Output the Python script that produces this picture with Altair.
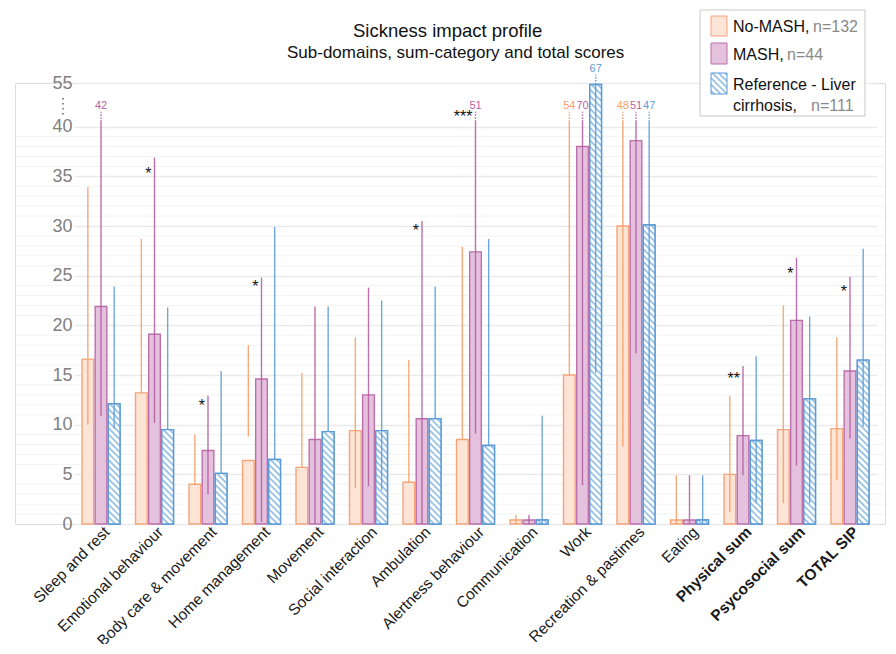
import base64
import altair as alt
import pandas as pd

# ---------------- data ----------------
categories = ["Sleep and rest", "Emotional behaviour", "Body care & movement", "Home management",
              "Movement", "Social interaction", "Ambulation", "Alertness behaviour", "Communication",
              "Work", "Recreation & pastimes", "Eating", "Physical sum", "Psycosocial sum", "TOTAL SIP"]
groups = ["No-MASH", "MASH", "Reference"]

no_mash_mean = [16.6, 13.2, 4.0, 6.4, 5.7, 9.4, 4.2, 8.5, 0.4, 15.0, 30.0, 0.4, 5.0, 9.5, 9.6]
no_mash_lo = [10.0, 13.2, 4.0, 8.8, 5.7, 3.6, 4.2, 8.5, 0.0, 15.0, 7.8, 0.0, 1.2, 2.1, 4.4]
no_mash_hi = [33.9, 28.7, 9.0, 18.0, 15.2, 18.8, 16.5, 27.9, 0.9, 54, 48, 4.9, 12.9, 22.0, 18.8]

mash_mean = [21.9, 19.1, 7.4, 14.6, 8.5, 13.0, 10.6, 27.4, 0.4, 38.0, 38.6, 0.4, 8.9, 20.5, 15.4]
mash_lo = [10.9, 10.2, 3.0, 0.2, 0.0, 3.8, 0.0, 9.1, 0.0, 3.9, 17.2, 0.0, 4.9, 5.9, 8.6]
mash_hi = [42, 36.9, 12.9, 24.8, 21.9, 23.8, 30.5, 51, 0.9, 70, 51, 4.9, 15.9, 26.8, 24.9]

ref_mean = [12.1, 9.5, 5.1, 6.5, 9.3, 9.4, 10.6, 7.9, 0.4, 54.5, 30.1, 0.4, 8.4, 12.6, 16.5]
ref_lo = [9.6, 9.5, 5.1, 6.5, 9.3, 3.4, 10.6, 7.9, 0.0, 15.2, 12.0, 0.0, 2.1, 2.1, 9.8]
ref_hi = [23.9, 21.8, 15.4, 29.9, 21.9, 22.5, 23.9, 28.7, 10.9, 67, 47, 4.9, 16.9, 20.9, 27.7]

stars_cat = ["Emotional behaviour", "Body care & movement", "Home management", "Ambulation",
             "Alertness behaviour", "Physical sum", "Psycosocial sum", "TOTAL SIP"]
stars_txt = ["*", "*", "*", "*", "***", "**", "*", "*"]
stars_pos = [35.6, 12.3, 24.3, 29.9, 41.4, 15.0, 25.6, 23.8]

y_tick_values = [0, 5, 10, 15, 20, 25, 30, 35, 40]
y_top_value = 55
minor_grid = [v for v in range(1, 40) if v % 5 != 0]

title_text = "Sickness impact profile"
subtitle_text = "Sub-domains, sum-category and total scores"

# ---------------- broken axis helpers ----------------
BREAK = 40.0
TOP_POS = 44.4
K = (TOP_POS - BREAK) / (y_top_value - BREAK)


def squash(v):
    return v if v <= BREAK else BREAK + (v - BREAK) * K


rows = []
for g, means, los, his in [("No-MASH", no_mash_mean, no_mash_lo, no_mash_hi),
                           ("MASH", mash_mean, mash_lo, mash_hi),
                           ("Reference", ref_mean, ref_lo, ref_hi)]:
    for c, m, lo, hi in zip(categories, means, los, his):
        mt = squash(m)
        trunc = hi > BREAK
        solid_top = max(mt, 40.5) if trunc else hi
        rows.append({
            "category": c, "group": g, "mean_t": mt, "zero": 0.0,
            "lo_t": lo, "solid_top": solid_top,
            "dot_top": solid_top + 1.0 if trunc else None,
            "lab_pos": solid_top + 1.6 if trunc else None,
            "lab_txt": str(int(round(hi))) if trunc else None,
        })
df = pd.DataFrame(rows)
df_trunc = df[df["lab_txt"].notna()].copy()
df_ref = df[df["group"] == "Reference"].copy()
stars_df = pd.DataFrame({"category": stars_cat, "group": "MASH", "pos": stars_pos, "txt": stars_txt})
minor_df = pd.DataFrame({"v": minor_grid})

# ---------------- styles ----------------
FONT = "Liberation Sans"
fill_colors = ["#FCE4D6", "#E4C2DE", "#DCEAF6"]
stroke_colors = ["#F4A57A", "#BB6FAB", "#5B9BD5"]
line_colors = ["#F5A06A", "#B55FA3", "#5E9DD6"]

hatch_svg = ('<svg xmlns="http://www.w3.org/2000/svg" width="100%" height="100%">'
             '<defs><pattern id="h" width="4.5" height="4.5" patternUnits="userSpaceOnUse" '
             'patternTransform="rotate(-45)">'
             '<rect width="4.5" height="4.5" fill="#ffffff"/>'
             '<line x1="1" y1="0" x2="1" y2="4.5" stroke="#8DBCE3" stroke-width="1.6"/>'
             '</pattern></defs><rect width="100%" height="100%" fill="url(#h)"/></svg>')
hatch_uri = "data:image/svg+xml;base64," + base64.b64encode(hatch_svg.encode()).decode()

W, H = 870, 441
xscale = alt.Scale(domain=categories, range=[59.25, 861.75], paddingInner=0.29, paddingOuter=0.145)
oscale = alt.Scale(domain=groups, paddingInner=0.114, paddingOuter=0)
yscale = alt.Scale(domain=[0, TOP_POS], nice=False, zero=False)

bold_test = "indexof(['Physical sum','Psycosocial sum','TOTAL SIP'], datum.value) >= 0"
xaxis = alt.Axis(title=None, labelAngle=315, labelAlign="right", labelBaseline="middle",
                 labelFont=FONT, labelFontSize=15.5, labelColor="#1a1a1a",
                 labelFontWeight={"condition": {"test": bold_test, "value": "bold"}, "value": "normal"},
                 labelPadding=5, labelOffset=6, domain=False, ticks=False, grid=False)
yaxis = alt.Axis(title=None, values=y_tick_values + [TOP_POS],
                 labelExpr="datum.value > 42 ? '55' : datum.label",
                 labelFont=FONT, labelFontSize=18, labelColor="#808080",
                 labelAlign="right", labelBaseline="middle", labelPadding=-57,
                 domain=False, ticks=False, tickSize=0,
                 grid=True, gridColor="#EAEAEA", gridWidth=1.5)

X = alt.X("category:N", sort=categories, scale=xscale, axis=xaxis)
XO = alt.XOffset("group:N", sort=groups, scale=oscale)


def Y(field):
    return alt.Y(field, type="quantitative", scale=yscale, axis=yaxis)


minor = alt.Chart(minor_df).mark_rule(color="#F3F3F3", strokeWidth=1).encode(y=Y("v"))

bars = alt.Chart(df).mark_bar(strokeWidth=1.4).encode(
    x=X, xOffset=XO, y=Y("mean_t"), y2="zero",
    fill=alt.Fill("group:N", sort=groups, scale=alt.Scale(domain=groups, range=fill_colors), legend=None),
    stroke=alt.Stroke("group:N", sort=groups, scale=alt.Scale(domain=groups, range=stroke_colors), legend=None),
)

hatch = alt.Chart(df_ref).mark_image(aspect=False).encode(
    x=X, xOffset=XO, y=Y("mean_t"), y2="zero", url=alt.value(hatch_uri))

ref_outline = alt.Chart(df_ref).mark_bar(fillOpacity=0, stroke="#5B9BD5", strokeWidth=1.4).encode(
    x=X, xOffset=XO, y=Y("mean_t"), y2="zero")

lcolor = alt.Color("group:N", sort=groups, scale=alt.Scale(domain=groups, range=line_colors), legend=None)

err = alt.Chart(df).mark_rule(strokeWidth=1.4, opacity=0.9).encode(
    x=X, xOffset=XO, y=Y("lo_t"), y2="solid_top", color=lcolor)

dots = alt.Chart(df_trunc).mark_rule(strokeWidth=1.4, strokeDash=[1.5, 1.5]).encode(
    x=X, xOffset=XO, y=Y("solid_top"), y2="dot_top", color=lcolor)

trunc_labels = alt.Chart(df_trunc).mark_text(font=FONT, fontSize=11, baseline="middle").encode(
    x=X, xOffset=XO, y=Y("lab_pos"), text="lab_txt:N", color=lcolor)

stars = alt.Chart(stars_df).mark_text(font=FONT, fontSize=16, align="right", baseline="middle",
                                      dx=-3, dy=4, color="#111111").encode(
    x=X, xOffset=XO, y=Y("pos"), text="txt:N")

one = pd.DataFrame({"d": [0]})
brk = alt.Chart(one).mark_rule(color="#888888", strokeWidth=2, strokeDash=[1.5, 3.5]).encode(
    x=alt.value(48), y=alt.value(15), y2=alt.value(32))

# ---------------- title (as text marks, above the plot) ----------------
title_layers = [
    alt.Chart(one).mark_text(text=title_text, font=FONT, fontSize=18.5, color="#111111",
                             align="left", baseline="alphabetic").encode(
        x=alt.value(338), y=alt.value(-46)),
    alt.Chart(one).mark_text(text=subtitle_text, font=FONT, fontSize=17, color="#111111",
                             align="left", baseline="alphabetic").encode(
        x=alt.value(272), y=alt.value(-25)),
]

# ---------------- manual legend ----------------
LX = 685
legend_layers = [
    alt.Chart(one).mark_rect(fill="white", stroke="#C8C8C8", strokeWidth=1).encode(
        x=alt.value(LX), x2=alt.value(LX + 165), y=alt.value(-73), y2=alt.value(33)),
    alt.Chart(one).mark_rect(fill=fill_colors[0], stroke=stroke_colors[0], strokeWidth=1).encode(
        x=alt.value(LX + 11), x2=alt.value(LX + 27), y=alt.value(-67), y2=alt.value(-47)),
    alt.Chart(one).mark_rect(fill=fill_colors[1], stroke=stroke_colors[1], strokeWidth=1).encode(
        x=alt.value(LX + 11), x2=alt.value(LX + 27), y=alt.value(-40), y2=alt.value(-19)),
    alt.Chart(one).mark_image(aspect=False, width=16, height=21, align="left", baseline="top").encode(
        x=alt.value(LX + 11), y=alt.value(-10), url=alt.value(hatch_uri)),
    alt.Chart(one).mark_rect(fill="white", fillOpacity=0, stroke=stroke_colors[2], strokeWidth=1).encode(
        x=alt.value(LX + 11), x2=alt.value(LX + 27), y=alt.value(-10), y2=alt.value(11)),
]
legend_texts = [
    ("No-MASH,", "#111111", LX + 33, -51), ("n=132", "#8a8a8a", LX + 113, -51),
    ("MASH,", "#111111", LX + 33, -23), ("n=44", "#8a8a8a", LX + 87, -23),
    ("Reference - Liver", "#111111", LX + 33, 7),
    ("cirrhosis,", "#111111", LX + 33, 28), ("n=111", "#8a8a8a", LX + 111, 28),
]
for t, col, tx, ty in legend_texts:
    legend_layers.append(
        alt.Chart(one).mark_text(text=t, color=col, font=FONT, fontSize=16, align="left",
                                 baseline="alphabetic").encode(x=alt.value(tx), y=alt.value(ty)))

chart = alt.layer(minor, bars, hatch, ref_outline, err, dots, trunc_labels, stars, brk,
                  *title_layers, *legend_layers).properties(
    width=W, height=H,
    autosize=alt.AutoSizeParams(type="none"),
    padding={"left": 7, "top": 75, "right": 3, "bottom": 120},
).configure_view(stroke=None).configure(background="white")

chart.save("out.html", embed_options={"renderer": "svg", "actions": False})
